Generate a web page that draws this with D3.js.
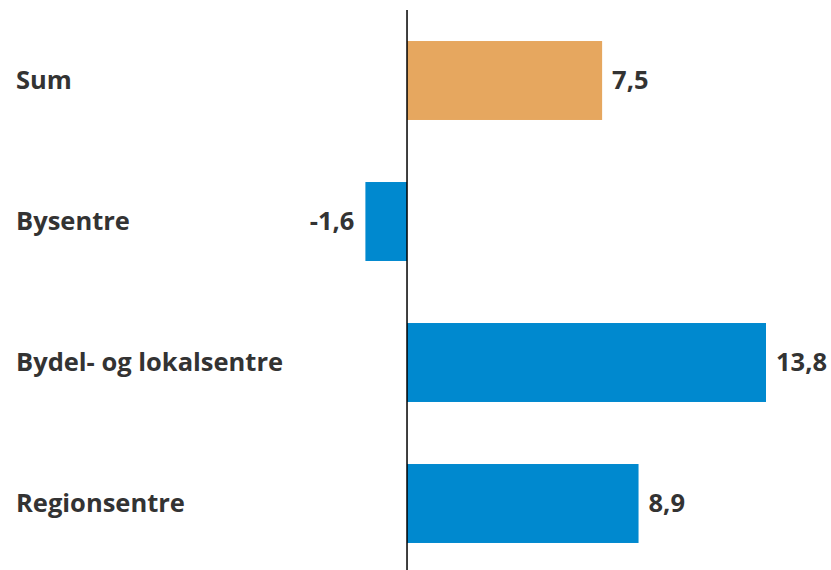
<!DOCTYPE html>
<head>
  <meta charset="utf-8">
  <title>Endring</title>
  <style>
    body { margin: 0; background: #fff; }
    text { font-family: "Open Sans", "Noto Sans", sans-serif; font-weight: bold; fill: #333; }
  </style>
</head>
<body>
<script src="https://d3js.org/d3.v7.min.js"></script>
<script>
// chart data
var categories = ["Sum", "Bysentre", "Bydel- og lokalsentre", "Regionsentre"];
var values = [7.5, -1.6, 13.8, 8.9];
var colors = ["#E6A75F", "#0089CF", "#0089CF", "#0089CF"];

var width = 831, height = 570;

var svg = d3.select("body").append("svg")
    .attr("width", width)
    .attr("height", height);

// x scale, zero sits at ~407px
var x = d3.scaleLinear()
    .domain([-1.6, 13.8])
    .range([365.4, 766]);

var y = d3.scaleBand()
    .domain(categories)
    .range([10, 574])
    .paddingInner(0.44)
    .paddingOuter(0.22);

var rows = categories.map(function(c, i) { return {cat: c, val: values[i], color: colors[i]}; });

// bars
svg.selectAll(".bar")
    .data(rows)
  .enter().append("rect")
    .attr("class", "bar")
    .attr("x", function(d) { return x(Math.min(0, d.val)); })
    .attr("width", function(d) { return Math.abs(x(d.val) - x(0)); })
    .attr("y", function(d) { return y(d.cat); })
    .attr("height", y.bandwidth())
    .attr("fill", function(d) { return d.color; });

// zero line
svg.append("line")
    .attr("x1", x(0)).attr("x2", x(0))
    .attr("y1", 10).attr("y2", height)
    .attr("stroke", "#000")
    .attr("stroke-width", 1.5);

// category labels
svg.selectAll(".cat")
    .data(rows)
  .enter().append("text")
    .attr("class", "cat")
    .attr("x", 16)
    .attr("y", function(d) { return y(d.cat) + y.bandwidth() / 2; })
    .attr("dy", "0.35em")
    .style("font-size", "25.5px")
    .text(function(d) { return d.cat; });

// value labels, comma decimal
svg.selectAll(".val")
    .data(rows)
  .enter().append("text")
    .attr("class", "val")
    .attr("x", function(d) { return d.val < 0 ? x(d.val) - 11 : x(d.val) + 10; })
    .attr("y", function(d) { return y(d.cat) + y.bandwidth() / 2; })
    .attr("dy", "0.35em")
    .attr("text-anchor", function(d) { return d.val < 0 ? "end" : "start"; })
    .style("font-size", "25.5px")
    .text(function(d) { return d.val.toFixed(1).replace(".", ","); });
</script>
</body>
